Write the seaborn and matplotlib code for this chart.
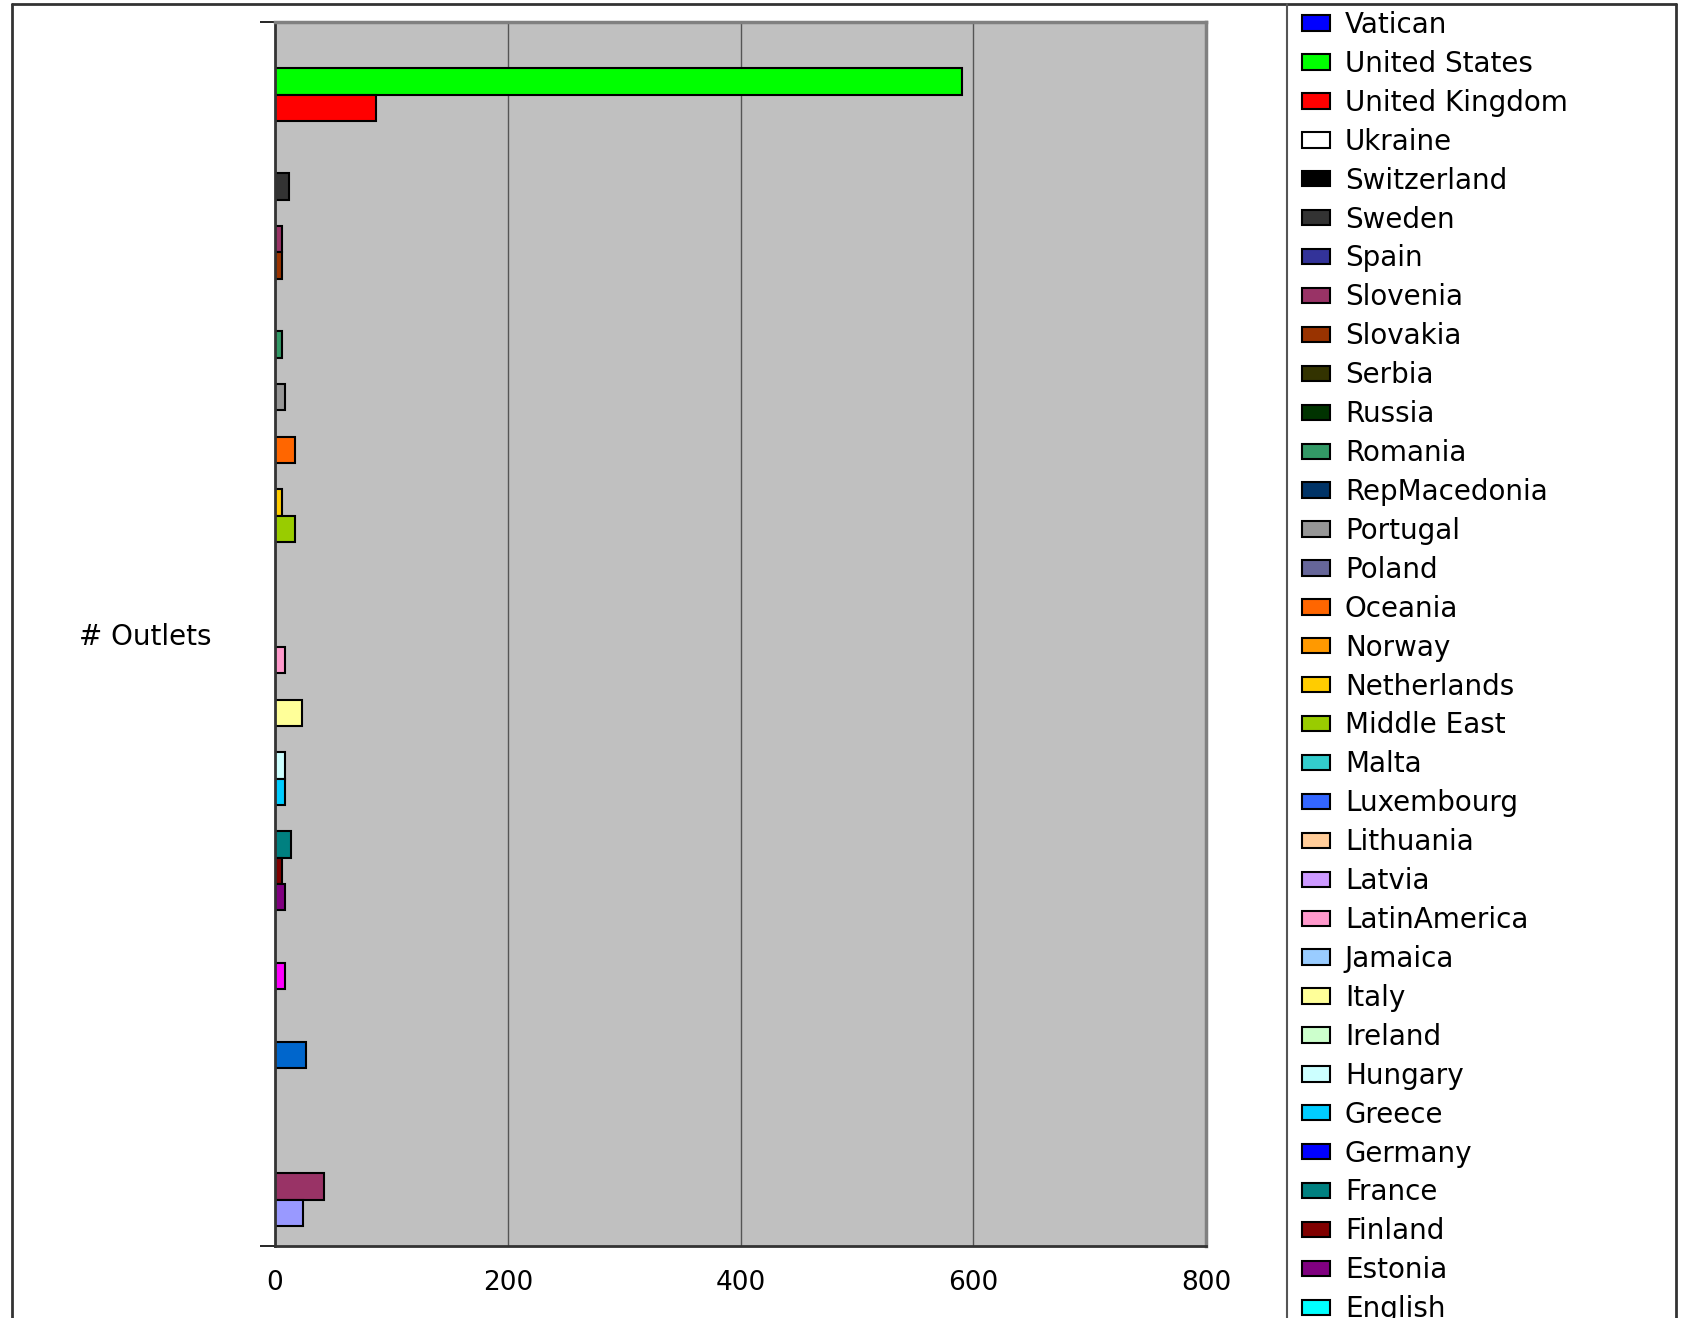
import matplotlib
matplotlib.use('Agg')
import matplotlib.pyplot as plt
from matplotlib.patches import Patch
from matplotlib.lines import Line2D
import seaborn as sns
import pandas as pd

category = '# Outlets'

# series in legend order (topmost bar first)
countries = ['Vatican', 'United States', 'United Kingdom', 'Ukraine', 'Switzerland',
             'Sweden', 'Spain', 'Slovenia', 'Slovakia', 'Serbia',
             'Russia', 'Romania', 'RepMacedonia', 'Portugal', 'Poland',
             'Oceania', 'Norway', 'Netherlands', 'Middle East', 'Malta',
             'Luxembourg', 'Lithuania', 'Latvia', 'LatinAmerica', 'Jamaica',
             'Italy', 'Ireland', 'Hungary', 'Greece', 'Germany',
             'France', 'Finland', 'Estonia', 'English', 'Denmark',
             'Czech Republic', 'Cyprus', 'Croatia', 'Canada', 'Bulgaria',
             'Bosnia', 'Belgium', 'Austria', 'Asia', 'Albania']
outlets = [0, 590, 87, 0, 0, 12, 0, 6, 6, 0,
           0, 6, 0, 9, 0, 17, 0, 6, 17, 0,
           0, 0, 0, 9, 0, 23, 0, 9, 9, 0,
           14, 6, 9, 0, 0, 9, 0, 0, 27, 0,
           0, 0, 0, 42, 24]
colors = ['#0000FF', '#00FF00', '#FF0000', '#FFFFFF', '#000000',
          '#333333', '#333399', '#993366', '#993300', '#333300',
          '#003300', '#339966', '#003366', '#969696', '#666699',
          '#FF6600', '#FF9900', '#FFCC00', '#99CC00', '#33CCCC',
          '#3366FF', '#FFCC99', '#CC99FF', '#FF99CC', '#99CCFF',
          '#FFFF99', '#CCFFCC', '#CCFFFF', '#00CCFF', '#0000FF',
          '#008080', '#800000', '#800080', '#00FFFF', '#FFFF00',
          '#FF00FF', '#000080', '#CCCCFF', '#0066CC', '#FF8080',
          '#660066', '#CCFFFF', '#FFFFCC', '#993366', '#9999FF']

sns.set_style('white')
plt.rcParams['font.family'] = ['DejaVu Sans']
plt.rcParams['text.color'] = 'black'
plt.rcParams['xtick.color'] = 'black'
plt.rcParams['ytick.color'] = 'black'

df = pd.DataFrame({'Category': [category] * len(countries),
                   'Country': countries,
                   'Outlets': outlets})

W, H = 1685, 1318
fig = plt.figure(figsize=(W / 100, H / 100), dpi=100)
ax = fig.add_axes([275 / W, 1 - 1246 / H, (1206 - 275) / W, (1246 - 22) / H])

sns.barplot(data=df, x='Outlets', y='Category', hue='Country', hue_order=countries,
            palette=colors, orient='h', width=0.9675, saturation=1,
            edgecolor='black', linewidth=1.5, errorbar=None, legend=False, ax=ax)

ax.set_facecolor('#C0C0C0')
ax.set_xlim(0, 800)
ax.set_ylim(0.5, -0.5)
ax.set_xlabel('')
ax.set_ylabel('')

ax.set_xticks(range(0, 801, 200))
ax.tick_params(axis='x', length=7, width=1, color='#333333', pad=10, labelsize=19)
ax.grid(axis='x', color='#555555', linewidth=1)
ax.set_axisbelow(True)

ax.set_yticks([0], labels=[category])
ax.tick_params(axis='y', which='major', length=0, pad=46, labelsize=20)
ax.set_yticks([-0.5, 0.5], minor=True)
ax.tick_params(axis='y', which='minor', left=True, length=11, width=1.2, color='black')

for side in ['left', 'bottom']:
    ax.spines[side].set_color('#333333')
    ax.spines[side].set_linewidth(2)
for side in ['top', 'right']:
    ax.spines[side].set_color('#808080')
    ax.spines[side].set_linewidth(2.5)

handles = [Patch(facecolor=c, edgecolor='black', linewidth=1.5, label=n)
           for n, c in zip(countries, colors)]
fig.legend(handles=handles, loc='upper left', bbox_to_anchor=(1287 / W, 1 + 4 / H),
           frameon=False, fontsize=20, handlelength=1.0, handleheight=0.47,
           handletextpad=0.54, borderpad=0.54, labelspacing=0.393, borderaxespad=0)

# outer chart border (no bottom edge visible) and legend box edge
border = dict(color='#333333', linewidth=2, transform=fig.transFigure)
fig.add_artist(Line2D([12 / W, 12 / W], [0, 1 - 4 / H], **border))
fig.add_artist(Line2D([1676 / W, 1676 / W], [0, 1 - 4 / H], **border))
fig.add_artist(Line2D([12 / W, 1676 / W], [1 - 4 / H, 1 - 4 / H], **border))
fig.add_artist(Line2D([1287 / W, 1287 / W], [0, 1 - 4 / H], color='#555555',
                      linewidth=1.5, transform=fig.transFigure))

fig.savefig('out.png', dpi=100)
